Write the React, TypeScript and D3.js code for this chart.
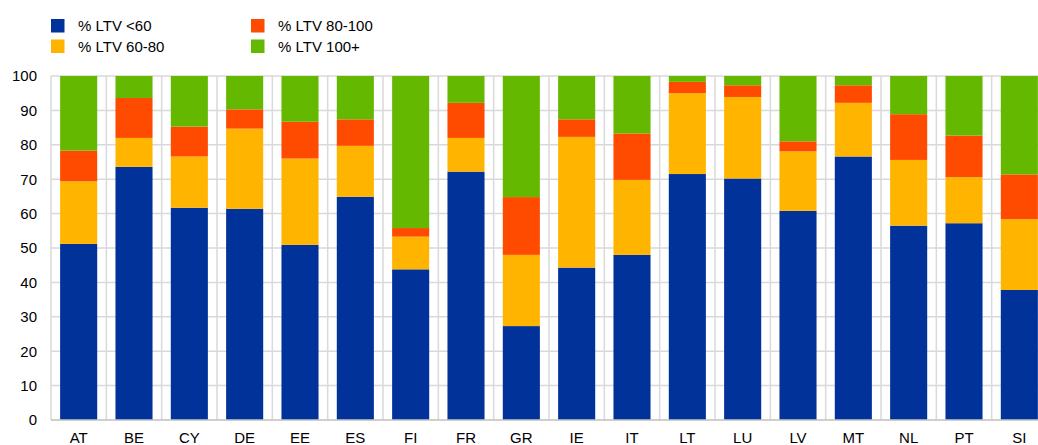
import React from 'react';
import * as d3 from 'd3';

const categories = ['AT', 'BE', 'CY', 'DE', 'EE', 'ES', 'FI', 'FR', 'GR', 'IE', 'IT', 'LT', 'LU', 'LV', 'MT', 'NL', 'PT', 'SI'];
const ltvBelow60 = [51.2, 73.6, 61.7, 61.4, 50.9, 64.9, 43.8, 72.2, 27.3, 44.3, 48.0, 71.5, 70.2, 60.8, 76.6, 56.5, 57.2, 37.8];
const ltv60to80 = [18.2, 8.4, 14.9, 23.3, 25.1, 14.8, 9.5, 9.8, 20.7, 38.0, 21.8, 23.5, 23.7, 17.3, 15.6, 19.1, 13.4, 20.6];
const ltv80to100 = [8.9, 11.6, 8.7, 5.6, 10.7, 7.7, 2.5, 10.2, 16.8, 5.1, 13.5, 3.3, 3.4, 2.9, 5.1, 13.3, 12.1, 13.0];
const ltv100plus = [21.7, 6.4, 14.7, 9.7, 13.3, 12.6, 44.2, 7.8, 35.2, 12.6, 16.7, 1.7, 2.7, 19.0, 2.7, 11.1, 17.3, 28.6];
const yTicks = [0, 10, 20, 30, 40, 50, 60, 70, 80, 90, 100];

const seriesKeys = ['lt60', 'l60_80', 'l80_100', 'l100'];
const seriesNames = ['% LTV <60', '% LTV 60-80', '% LTV 80-100', '% LTV 100+'];
const colors = ['#003299', '#FFB400', '#FF4B00', '#65B800'];

const width = 1038;
const height = 445;
const left = 51;
const right = 1047;
const top = 76;
const bottom = 420;
const font = 'Arial, "Liberation Sans", sans-serif';

export default function App() {
  const rows = categories.map((c, i) => ({
    cat: c,
    lt60: ltvBelow60[i],
    l60_80: ltv60to80[i],
    l80_100: ltv80to100[i],
    l100: ltv100plus[i],
  }));
  const stacked = d3.stack<any>().keys(seriesKeys)(rows);

  const x = d3.scaleBand().domain(categories).range([left, right]).paddingInner(0.33).paddingOuter(0.165);
  const step = x.step();
  const y = d3.scaleLinear().domain([0, 100]).range([bottom, top]);

  // legend layout: column-major, 2 rows
  const legendPos = [
    { x: 51, y: 19 },
    { x: 51, y: 39.5 },
    { x: 251, y: 19 },
    { x: 251, y: 39.5 },
  ];

  return (
    <svg width={width} height={height} style={{ position: 'absolute', left: 0, top: 0 }} fontFamily={font}>
      <rect width={width} height={height} fill="#fff" />
      {/* grid */}
      {yTicks.map(t => (
        <line key={'h' + t} x1={left} x2={right} y1={y(t)} y2={y(t)} stroke="#d9d9d9" strokeWidth={1.5} />
      ))}
      {d3.range(categories.length + 1).map(i => (
        <line key={'v' + i} x1={left + i * step} x2={left + i * step} y1={top} y2={bottom} stroke="#d9d9d9" strokeWidth={1.5} />
      ))}
      {/* bars */}
      {stacked.map((s, si) => (
        <g key={s.key} fill={colors[si]}>
          {s.map((d, i) => (
            <rect
              key={i}
              x={x(categories[i])}
              width={x.bandwidth()}
              y={y(d[1])}
              height={y(d[0]) - y(d[1])}
            />
          ))}
        </g>
      ))}
      <line x1={left} x2={right} y1={bottom} y2={bottom} stroke="#c8c8c8" strokeWidth={1.5} />
      {/* y ticks */}
      {yTicks.map(t => (
        <text key={'yt' + t} x={37} y={y(t)} dy="0.36em" textAnchor="end" fontSize={15} fill="#000">
          {t}
        </text>
      ))}
      {/* x labels */}
      {categories.map(c => (
        <text key={'xl' + c} x={(x(c) as number) + x.bandwidth() / 2} y={443} textAnchor="middle" fontSize={15} fill="#000">
          {c}
        </text>
      ))}
      {/* legend */}
      {seriesNames.map((n, i) => (
        <g key={n} transform={`translate(${legendPos[i].x},${legendPos[i].y})`}>
          <rect width={13.5} height={13.5} fill={colors[i]} />
          <text x={27} y={6.75} dy="0.36em" fontSize={15} fill="#000">
            {n}
          </text>
        </g>
      ))}
    </svg>
  );
}
